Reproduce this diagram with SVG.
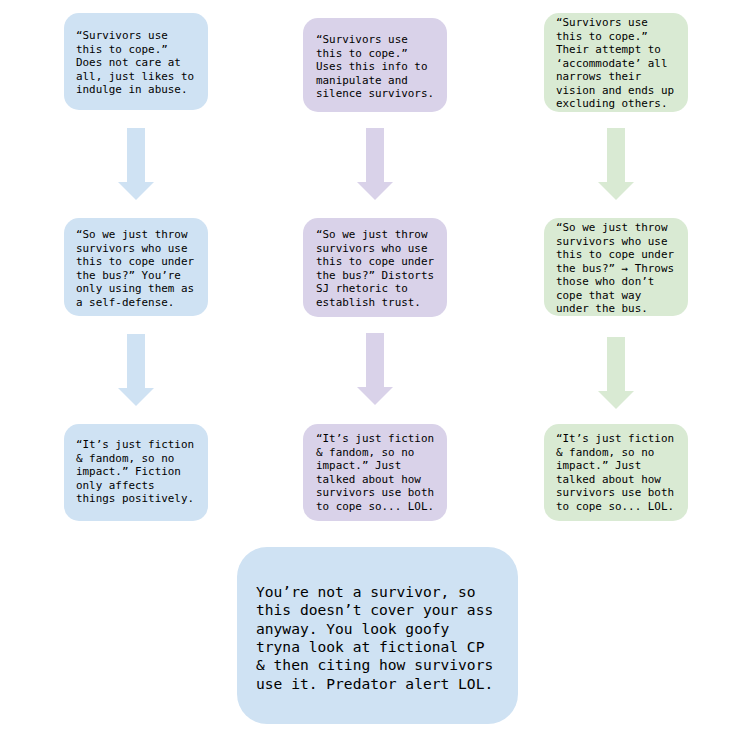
<svg xmlns="http://www.w3.org/2000/svg" width="750" height="750" viewBox="0 0 750 750">
<style>
.blue{fill:#cfe2f3}
.purple{fill:#d9d2e9}
.green{fill:#d9ead3}
text{font-family:"DejaVu Sans Mono","Liberation Mono",monospace;font-size:10.9px;fill:#000}
.big{font-size:14.6px}
</style>
<rect width="750" height="750" fill="#fff"/>
<g id="connectors">
<polygon class="blue" points="127,128 145,128 145,182 154,182 136,200 118,182 127,182"/>
<polygon class="blue" points="127,334 145,334 145,388 154,388 136,406 118,388 127,388"/>
<polygon class="purple" points="366,128 384,128 384,182 393,182 375,200 357,182 366,182"/>
<polygon class="purple" points="366,333 384,333 384,387 393,387 375,405 357,387 366,387"/>
<polygon class="green" points="607,128 625,128 625,182 634,182 616,200 598,182 607,182"/>
<polygon class="green" points="607,337 625,337 625,391 634,391 616,409 598,391 607,391"/>
</g>
<g id="n1">
<rect class="blue" x="64" y="13" width="144" height="97" rx="15"/>
<text x="76" y="39">“Survivors use</text>
<text x="76" y="52.5">this to cope.”</text>
<text x="76" y="66">Does not care at</text>
<text x="76" y="79.5">all, just likes to</text>
<text x="76" y="93">indulge in abuse.</text>
</g>
<g id="n2">
<rect class="purple" x="303" y="18" width="144" height="94" rx="15"/>
<text x="316" y="43">“Survivors use</text>
<text x="316" y="56.5">this to cope.”</text>
<text x="316" y="70">Uses this info to</text>
<text x="316" y="83.5">manipulate and</text>
<text x="316" y="97">silence survivors.</text>
</g>
<g id="n3">
<rect class="green" x="544" y="13" width="144" height="99" rx="15"/>
<text x="556" y="26">“Survivors use</text>
<text x="556" y="39.5">this to cope.”</text>
<text x="556" y="53">Their attempt to</text>
<text x="556" y="66.5">‘accommodate’ all</text>
<text x="556" y="80">narrows their</text>
<text x="556" y="93.5">vision and ends up</text>
<text x="556" y="107">excluding others.</text>
</g>
<g id="n4">
<rect class="blue" x="64" y="218" width="144" height="98" rx="15"/>
<text x="76" y="238">“So we just throw</text>
<text x="76" y="251.5">survivors who use</text>
<text x="76" y="265">this to cope under</text>
<text x="76" y="278.5">the bus?” You’re</text>
<text x="76" y="292">only using them as</text>
<text x="76" y="305.5">a self-defense.</text>
</g>
<g id="n5">
<rect class="purple" x="303" y="218" width="144" height="99" rx="15"/>
<text x="316" y="238">“So we just throw</text>
<text x="316" y="251.5">survivors who use</text>
<text x="316" y="265">this to cope under</text>
<text x="316" y="278.5">the bus?” Distorts</text>
<text x="316" y="292">SJ rhetoric to</text>
<text x="316" y="305.5">establish trust.</text>
</g>
<g id="n6">
<rect class="green" x="544" y="218" width="144" height="98" rx="15"/>
<text x="556" y="231">“So we just throw</text>
<text x="556" y="244.5">survivors who use</text>
<text x="556" y="258">this to cope under</text>
<text x="556" y="271.5">the bus?” → Throws</text>
<text x="556" y="285">those who don’t</text>
<text x="556" y="298.5">cope that way</text>
<text x="556" y="312">under the bus.</text>
</g>
<g id="n7">
<rect class="blue" x="64" y="424" width="144" height="97" rx="15"/>
<text x="76" y="448">“It’s just fiction</text>
<text x="76" y="461.5">&amp; fandom, so no</text>
<text x="76" y="475">impact.” Fiction</text>
<text x="76" y="488.5">only affects</text>
<text x="76" y="502">things positively.</text>
</g>
<g id="n8">
<rect class="purple" x="303" y="424" width="144" height="97" rx="15"/>
<text x="316" y="442">“It’s just fiction</text>
<text x="316" y="455.5">&amp; fandom, so no</text>
<text x="316" y="469">impact.” Just</text>
<text x="316" y="482.5">talked about how</text>
<text x="316" y="496">survivors use both</text>
<text x="316" y="509.5">to cope so... LOL.</text>
</g>
<g id="n9">
<rect class="green" x="544" y="424" width="144" height="97" rx="15"/>
<text x="556" y="442">“It’s just fiction</text>
<text x="556" y="455.5">&amp; fandom, so no</text>
<text x="556" y="469">impact.” Just</text>
<text x="556" y="482.5">talked about how</text>
<text x="556" y="496">survivors use both</text>
<text x="556" y="509.5">to cope so... LOL.</text>
</g>
<g id="n10">
<rect class="blue" x="237" y="547" width="281" height="177" rx="30"/>
<text class="big" x="256" y="597">You’re not a survivor, so</text>
<text class="big" x="256" y="615.3">this doesn’t cover your ass</text>
<text class="big" x="256" y="633.6">anyway. You look goofy</text>
<text class="big" x="256" y="651.9">tryna look at fictional CP</text>
<text class="big" x="256" y="670.2">&amp; then citing how survivors</text>
<text class="big" x="256" y="688.5">use it. Predator alert LOL.</text>
</g>
</svg>
